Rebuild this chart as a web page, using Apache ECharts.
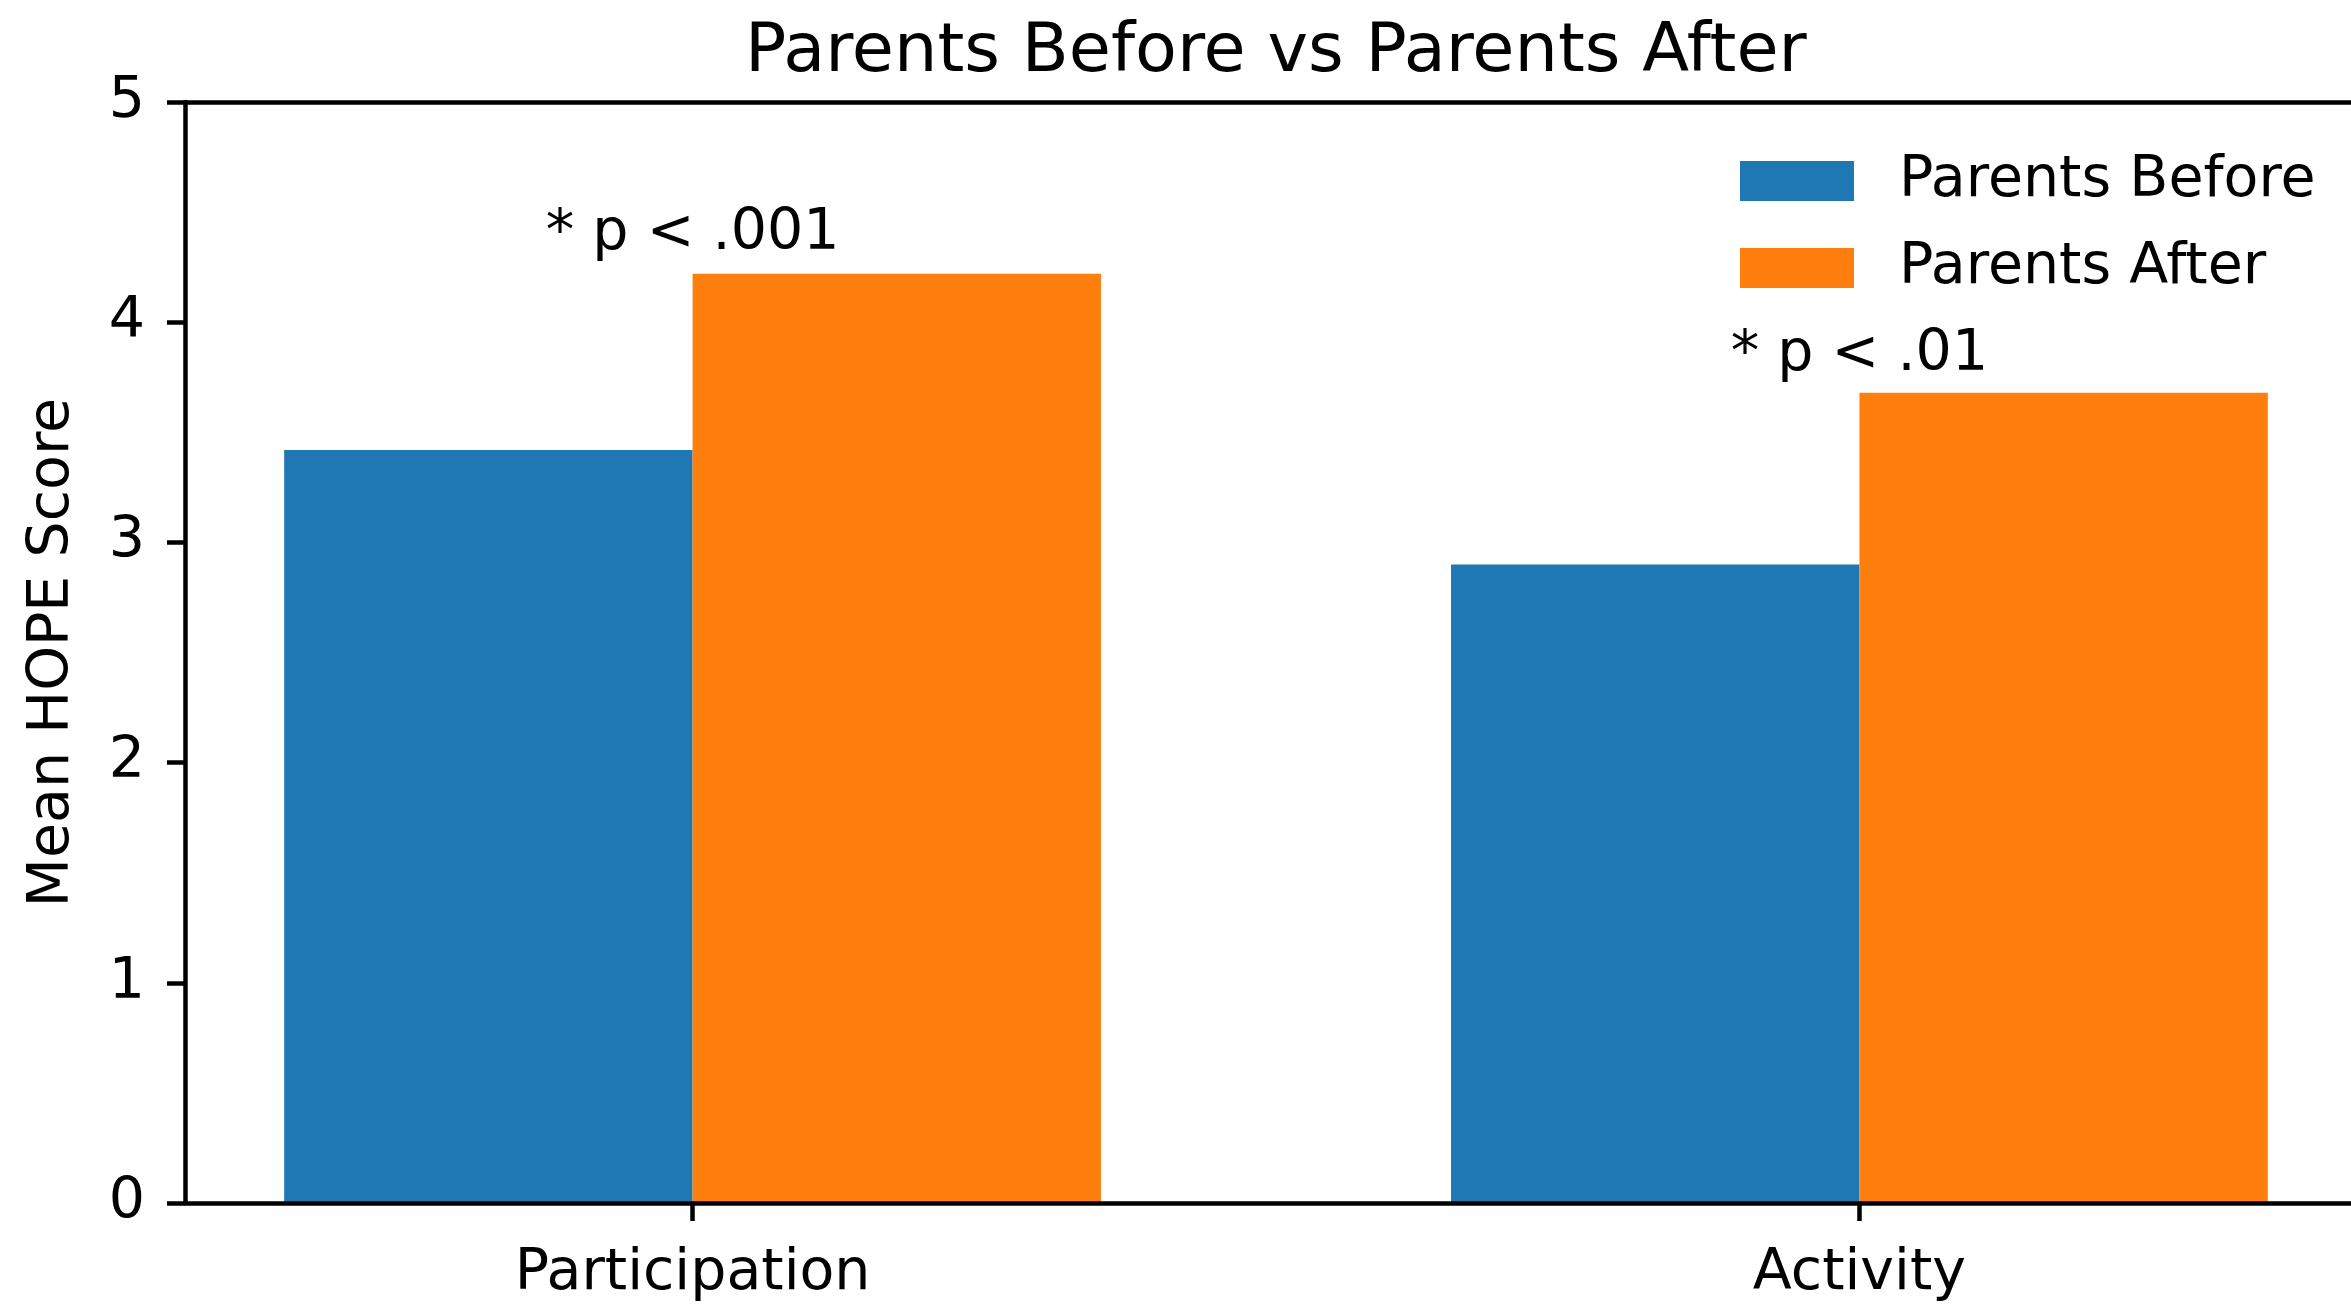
<!DOCTYPE html>
<html>
<head>
<meta charset="utf-8">
<script src="https://cdn.jsdelivr.net/npm/echarts@6/dist/echarts.min.js"></script>
<style>
  html, body { margin: 0; padding: 0; background: #fff; }
  #chart { width: 2351px; height: 1306px; }
</style>
</head>
<body>
<div id="chart"></div>
<script>
// data
const categories = ['Participation', 'Activity'];
const categoryPos = [0, 1];
const seriesNames = ['Parents Before', 'Parents After'];
const parentsBefore = [3.42, 2.90];
const parentsAfter = [4.22, 3.68];
const annotations = ['* p < .001', '* p < .01'];
const annotationY = [4.32, 3.77];
const yTicks = [0, 1, 2, 3, 4, 5];

// layout (matplotlib-like axes, right spine falls just outside the canvas)
const xMin = -0.435, xMax = 1.435;
const gridLeft = 185, gridTop = 102, gridWidth = 2182, gridHeight = 1101;
const barWidth = gridWidth / (xMax - xMin) * 0.35;
const font = 'DejaVu Sans';
const fs = 57;
const lw = 4.5;
const black = '#000';

const chart = echarts.init(document.getElementById('chart'));

const option = {
  animation: false,
  backgroundColor: '#fff',
  title: {
    text: 'Parents Before vs Parents After',
    left: 745,
    top: 19,
    padding: 0,
    textStyle: { fontFamily: font, fontSize: 68.5, fontWeight: 'normal', color: black, lineHeight: 68 }
  },
  legend: {
    orient: 'vertical',
    left: 1740,
    top: 148,
    padding: 0,
    itemWidth: 114,
    itemHeight: 40,
    itemGap: 21,
    icon: 'rect',
    data: seriesNames,
    textStyle: { fontFamily: font, fontSize: fs, color: black, lineHeight: 57, padding: [9, 0, 0, 40] }
  },
  grid: {
    left: gridLeft,
    top: gridTop,
    width: gridWidth,
    height: gridHeight,
    outerBoundsMode: 'none',
    containLabel: false
  },
  xAxis: [
    {
      type: 'value',
      min: xMin,
      max: xMax,
      z: 5,
      splitLine: { show: false },
      axisLine: { show: true, onZero: false, lineStyle: { color: black, width: lw } },
      axisTick: {
        show: true, inside: false, length: 18, customValues: categoryPos,
        lineStyle: { color: black, width: lw }
      },
      axisLabel: {
        customValues: categoryPos,
        margin: 43,
        fontFamily: font, fontSize: fs, color: black, lineHeight: 57,
        formatter: v => categories[categoryPos.indexOf(Math.round(v))] || ''
      }
    },
    {
      // top spine
      type: 'value',
      position: 'top',
      min: xMin,
      max: xMax,
      z: 5,
      splitLine: { show: false },
      axisLine: { show: true, onZero: false, lineStyle: { color: black, width: lw } },
      axisTick: { show: false },
      axisLabel: { show: false }
    }
  ],
  yAxis: {
    type: 'value',
    min: yTicks[0],
    max: yTicks[yTicks.length - 1],
    interval: 1,
    z: 5,
    name: 'Mean HOPE Score',
    nameLocation: 'middle',
    nameRotate: 90,
    nameGap: 103,
    nameTextStyle: { fontFamily: font, fontSize: fs, color: black, lineHeight: 57 },
    splitLine: { show: false },
    axisLine: { show: true, onZero: false, lineStyle: { color: black, width: lw } },
    axisTick: { show: true, inside: false, length: 18, lineStyle: { color: black, width: lw } },
    axisLabel: { margin: 40, fontFamily: font, fontSize: fs, color: black }
  },
  series: [
    {
      name: seriesNames[0],
      type: 'bar',
      barWidth: barWidth,
      barGap: '0%',
      itemStyle: { color: '#1f77b4' },
      data: categoryPos.map((x, i) => [x, parentsBefore[i]])
    },
    {
      name: seriesNames[1],
      type: 'bar',
      barWidth: barWidth,
      barGap: '0%',
      itemStyle: { color: '#ff7f0e' },
      data: categoryPos.map((x, i) => [x, parentsAfter[i]])
    },
    {
      name: 'annotations',
      type: 'scatter',
      symbolSize: 0,
      silent: true,
      z: 6,
      itemStyle: { opacity: 1 },
      label: {
        show: true,
        position: 'top',
        distance: 0,
        offset: [0, 11],
        fontFamily: font,
        fontSize: fs,
        lineHeight: 57,
        color: black,
        opacity: 1,
        formatter: p => annotations[p.dataIndex]
      },
      data: categoryPos.map((x, i) => [x, annotationY[i]])
    }
  ]
};

chart.setOption(option);
</script>
</body>
</html>
